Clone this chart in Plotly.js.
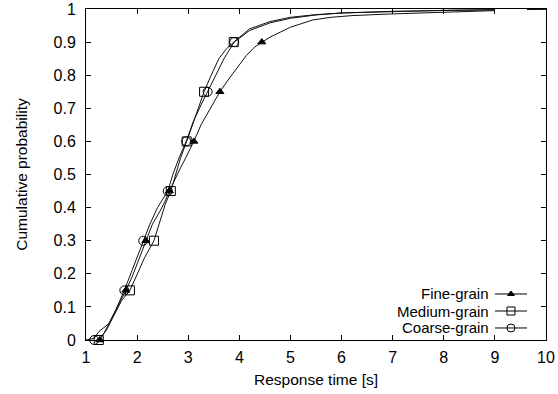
<!DOCTYPE html>
<html>
<head>
<meta charset="utf-8">
<script src="https://cdn.plot.ly/plotly-3.0.1.min.js"></script>
<style>html,body{margin:0;padding:0;background:#fff;}#chart{width:558px;height:394px;}</style>
</head>
<body>
<div id="chart"></div>
<script>
// ---- data ----
const seriesNames = ["Fine-grain", "Medium-grain", "Coarse-grain"];

const fineX = [1.22,1.27,1.35,1.45,1.55,1.65,1.78,1.9,2.0,2.1,2.17,2.3,2.45,2.55,2.63,2.75,2.85,2.95,3.05,3.11,3.25,3.4,3.5,3.62,3.8,4.0,4.14,4.3,4.44,4.6,4.8,5.0,5.2,5.44,5.8,6.2,6.95,8.0,8.96,10];
const fineY = [0,0,0.02,0.05,0.08,0.11,0.15,0.19,0.23,0.27,0.30,0.35,0.39,0.42,0.45,0.49,0.52,0.55,0.58,0.60,0.65,0.69,0.72,0.75,0.79,0.83,0.86,0.885,0.90,0.915,0.93,0.945,0.955,0.967,0.975,0.98,0.985,0.99,0.995,1.0];

const medX = [1.2,1.3,1.4,1.5,1.6,1.7,1.86,2.0,2.15,2.33,2.45,2.55,2.66,2.75,2.85,2.97,3.08,3.2,3.31,3.45,3.6,3.75,3.89,4.2,4.6,5.0,5.5,6.0,7.0,8.0,9.0,10];
const medY = [0,0.01,0.03,0.06,0.09,0.12,0.15,0.2,0.25,0.30,0.36,0.41,0.45,0.5,0.55,0.60,0.65,0.7,0.75,0.8,0.85,0.88,0.90,0.94,0.962,0.975,0.983,0.988,0.993,0.996,0.998,1.0];

const coarseX = [1.0,1.16,1.25,1.45,1.58,1.75,1.9,2.0,2.12,2.25,2.4,2.6,2.7,2.82,2.96,3.1,3.25,3.38,3.55,3.7,3.9,4.2,4.6,5.0,5.5,6.0,7.0,8.0,9.0,10];
const coarseY = [0,0.005,0.025,0.05,0.09,0.15,0.21,0.25,0.30,0.35,0.40,0.45,0.5,0.55,0.60,0.66,0.71,0.75,0.8,0.85,0.90,0.935,0.958,0.972,0.982,0.988,0.993,0.996,0.998,1.0];

// marker points (every 0.15 of probability)
const markerLevels = [0,0.15,0.30,0.45,0.60,0.75,0.90];
const fineMarkX   = [1.27,1.78,2.17,2.63,3.11,3.62,4.44];
const medMarkX    = [1.25,1.86,2.33,2.66,2.97,3.31,3.89];
const coarseMarkX = [1.16,1.75,2.12,2.60,2.96,3.38,3.90];

const xTicks = [1,2,3,4,5,6,7,8,9,10];
const yTicks = [0,0.1,0.2,0.3,0.4,0.5,0.6,0.7,0.8,0.9,1];

// ---- styling ----
const FONT = "Liberation Sans, Arial, Helvetica, sans-serif";
const TICKSIZE = 16;
const TEXTSIZE = 15.5;
const LEGENDSIZE = 15;
const symbols = ["triangle-up", "square-open", "circle-open"];
const msize = [7, 9, 9];
const legendRowsY = [0.139, 0.0876, 0.0363];

const curves = [[fineX, fineY], [medX, medY], [coarseX, coarseY]];
const marks = [fineMarkX, medMarkX, coarseMarkX];

const traces = [];
curves.forEach((c, i) => {
  traces.push({x: c[0], y: c[1], mode: "lines", line: {color: "#111", width: 1}, showlegend: false, hoverinfo: "skip"});
});
marks.forEach((m, i) => {
  traces.push({x: m, y: markerLevels, mode: "markers", showlegend: false, cliponaxis: false,
    marker: {symbol: symbols[i], size: msize[i], color: "#000", line: {color: "#000", width: 1}}});
});
// legend samples on a small overlay axis
seriesNames.forEach((n, i) => {
  traces.push({x: [0, 1], y: [legendRowsY[i], legendRowsY[i]], xaxis: "x2", yaxis: "y2", mode: "lines",
    line: {color: "#000", width: 1}, showlegend: false, hoverinfo: "skip"});
  traces.push({x: [0.5], y: [legendRowsY[i]], xaxis: "x2", yaxis: "y2", mode: "markers", cliponaxis: false,
    marker: {symbol: symbols[i], size: msize[i] - 1, color: "#000", line: {color: "#000", width: 1}}, showlegend: false});
});

const annotations = seriesNames.map((n, i) => ({
  text: n, xref: "paper", yref: "paper", x: 0.8783, y: legendRowsY[i], xanchor: "right", yanchor: "middle",
  borderpad: 0, showarrow: false, font: {family: FONT, size: LEGENDSIZE, color: "#000"}
}));

const axisCommon = {
  showgrid: false, zeroline: false, showline: true, linecolor: "#000", linewidth: 1, mirror: "allticks",
  ticks: "inside", ticklen: 5, tickwidth: 1, tickcolor: "#000",
  tickfont: {family: FONT, size: TICKSIZE, color: "#000"}
};

const layout = {
  width: 558, height: 394,
  margin: {l: 86, r: 12, t: 9, b: 54},
  paper_bgcolor: "#fff", plot_bgcolor: "#fff",
  showlegend: false,
  xaxis: Object.assign({}, axisCommon, {range: [1, 10], tickvals: xTicks, ticktext: xTicks.map(String), ticklabelstandoff: 3,
    title: {text: "Response time [s]", font: {family: FONT, size: TEXTSIZE, color: "#000"}, standoff: 8}}),
  yaxis: Object.assign({}, axisCommon, {range: [0, 1], tickvals: yTicks, ticktext: yTicks.map(String), ticklabelstandoff: 6,
    title: {text: "Cumulative probability", font: {family: FONT, size: TEXTSIZE, color: "#000"}, standoff: 22}}),
  xaxis2: {domain: [0.889, 0.9587], range: [0, 1], visible: false, anchor: "y2"},
  yaxis2: {domain: [0, 1], range: [0, 1], visible: false, anchor: "x2", overlaying: "y"},
  annotations: annotations
};

Plotly.newPlot("chart", traces, layout, {staticPlot: true, displayModeBar: false});
</script>
</body>
</html>
